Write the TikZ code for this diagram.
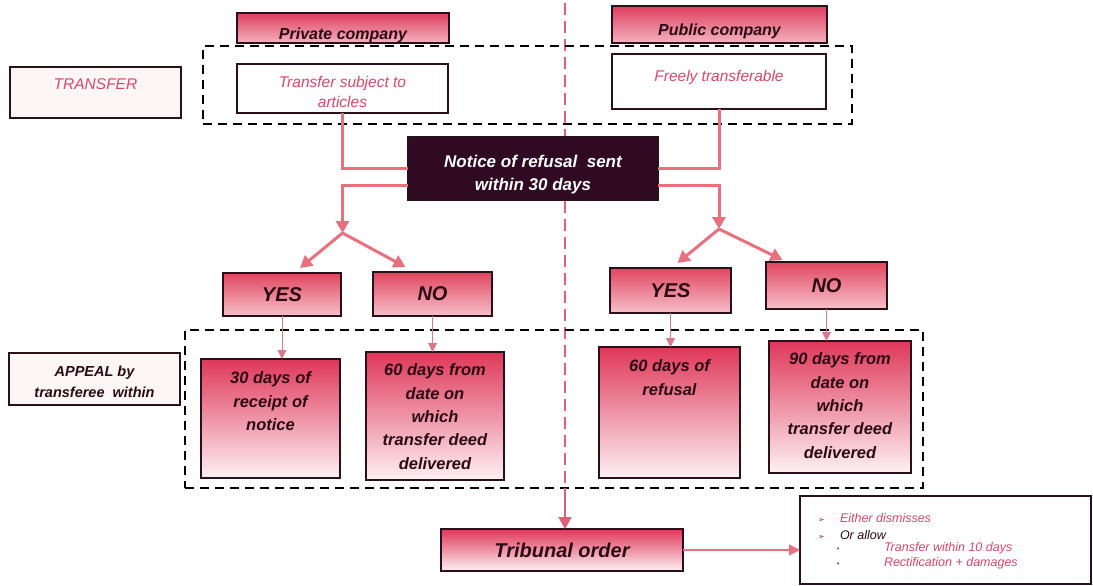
\documentclass[tikz,border=0pt]{standalone}
\usepackage{fontspec}
\setmainfont{Liberation Sans}
\newfontfamily\symfont{DejaVu Sans}
\usetikzlibrary{arrows.meta}

\definecolor{edge}{HTML}{2A1018}
\definecolor{ink}{HTML}{2B0A14}
\definecolor{hdrtop}{HTML}{DE3E5E}
\definecolor{hdrbot}{HTML}{F4B3C0}
\definecolor{choicetop}{HTML}{E0465F}
\definecolor{choicebot}{HTML}{F7C0CA}
\definecolor{periodtop}{HTML}{DF3759}
\definecolor{periodbot}{HTML}{FDF1F3}
\definecolor{link}{HTML}{E8707F}
\definecolor{finelink}{HTML}{D97A8A}
\definecolor{pinktext}{HTML}{D9476A}
\definecolor{noticefill}{HTML}{2F0A22}
\definecolor{divider}{HTML}{E35D78}
\definecolor{paleface}{HTML}{FDF6F7}
\definecolor{bullred}{HTML}{9A2436}

% text block of a fixed size, set from the top
\newcommand\toptext[4]{\parbox[c][#1][t]{#2}{\centering\vspace*{#3}#4\par}}
\newcommand\mainbul{\makebox[22pt][l]{{\symfont\fontsize{8}{8}\selectfont\color{bullred}➢}}}
\newcommand\subbul{\makebox[48pt][l]{{\symfont\fontsize{7}{7}\selectfont\color{ink!70}•}}}

\begin{document}
\begin{tikzpicture}[x=1pt,y=-1pt,
  boxline/.style={draw=edge, line width=1.1pt, inner sep=0pt, outer sep=0pt},
  hdr/.style={boxline, top color=hdrtop, bottom color=hdrbot, text=ink,
    font=\bfseries\itshape\fontsize{16}{18}\selectfont},
  sidelabel/.style={boxline, fill=paleface},
  rulebox/.style={boxline, fill=white, text=pinktext,
    font=\itshape\fontsize{15.5}{20}\selectfont},
  notice/.style={boxline, fill=noticefill, text=white,
    font=\bfseries\itshape\fontsize{17}{23}\selectfont},
  choice/.style={boxline, top color=choicetop, bottom color=choicebot, text=ink,
    font=\bfseries\itshape\fontsize{20}{22}\selectfont},
  period/.style={boxline, top color=periodtop, bottom color=periodbot, text=ink,
    font=\bfseries\itshape\fontsize{16.5}{23.3}\selectfont},
  group/.style={draw=black, line width=2pt, dash pattern=on 9pt off 6pt, inner sep=0pt},
  conn/.style={draw=link, line width=3pt},
  fineconn/.style={draw=finelink, line width=1pt},
  bigtip/.style={-{Triangle[length=12pt,width=13pt]}},
  smalltip/.style={-{Triangle[length=9pt,width=9pt]}},
]
\useasboundingbox (0,0) rectangle (1093,586);

% dividing line between the two kinds of company
\coordinate (dtop) at (565,3);
\coordinate (dbot) at (565,488);
\draw[draw=divider, line width=2pt, dash pattern=on 12pt off 6pt] (dtop) -- (dbot);

% headers and transfer rules
\node[hdr] (privhead) at (343,28) {\toptext{30pt}{212pt}{14.5pt}{Private company}};
\node[hdr] (pubhead) at (719.5,24.5) {\toptext{37pt}{215pt}{18pt}{Public company}};
\node[group, minimum width=649pt, minimum height=78pt] (topgroup) at (527.5,85) {};
\node[sidelabel, text=pinktext, font=\itshape\fontsize{15.5}{18}\selectfont]
  (transferlbl) at (95.5,92.5) {\toptext{51pt}{171pt}{11.5pt}{TRANSFER}};
\node[rulebox] (subj) at (342.5,88.5) {\toptext{49pt}{211pt}{12pt}{Transfer subject to\\articles}};
\node[rulebox] (free) at (719,81.5) {\toptext{55pt}{214pt}{16pt}{Freely transferable}};

% refusal notice
\node[notice] (notice) at (533,168.5) {\toptext{63pt}{250pt}{18pt}{Notice of refusal\ \ sent\\within 30 days}};

% yes / no branches
\node[choice, minimum width=118pt, minimum height=43pt] (yesL) at (282,294.5) {YES};
\node[choice, minimum width=119pt, minimum height=44pt] (noL) at (432.5,294) {NO};
\node[choice, minimum width=121pt, minimum height=45pt] (yesR) at (670.5,290.5) {YES};
\node[choice, minimum width=121pt, minimum height=47pt] (noR) at (826.5,285.5) {NO};

% appeal periods
\node[group, minimum width=738pt, minimum height=158pt] (appealgroup) at (554,409) {};
\node[sidelabel, text=ink, font=\bfseries\itshape\fontsize{14.5}{21}\selectfont]
  (appeallbl) at (94.5,379) {\toptext{52pt}{171pt}{13pt}{APPEAL by\\transferee\ \ within}};
\node[period] (c1) at (270.5,418.5) {\toptext{119pt}{139pt}{13pt}{30 days of\\receipt of\\notice}};
\node[period] (c2) at (435,416) {\toptext{128pt}{138pt}{12pt}{60 days from\\date on\\which\\transfer deed\\delivered}};
\node[period] (c3) at (669.5,412.5) {\toptext{131pt}{141pt}{13pt}{60 days of\\refusal}};
\node[period] (c4) at (840,407) {\toptext{132pt}{142pt}{12pt}{90 days from\\date on\\which\\transfer deed\\delivered}};

% tribunal and its possible orders
\node[period, font=\bfseries\itshape\fontsize{20}{22}\selectfont, minimum width=242pt, minimum height=42pt]
  (tribunal) at (562,550) {Tribunal order};
\node[boxline, fill=white, font=\itshape\fontsize{12.5}{14}\selectfont] (outcome) at (945.5,540)
  {\parbox[c][88pt][t]{291pt}{\raggedright\vspace*{17pt}%
    \hspace*{18pt}\mainbul{\color{pinktext}Either dismisses}\\[3pt]
    \hspace*{18pt}\mainbul{\color{ink}Or allow}\\[-2pt]
    \hspace*{36pt}\subbul{\color{pinktext}Transfer within 10 days}\\[1pt]
    \hspace*{36pt}\subbul{\color{pinktext}Rectification + damages}\par}};

% connectors
\coordinate (forkL) at (subj.south |- 0,233);
\coordinate (forkR) at (free.south |- 0,229);
\draw[conn] (subj.south) |- (notice.west);
\draw[conn, bigtip] ([yshift=-17pt]notice.west) -| (forkL);
\draw[conn, bigtip] (forkL) -- ([xshift=18pt,yshift=5pt]yesL.north);
\draw[conn, bigtip] (forkL) -- ([xshift=-27pt,yshift=5pt]noL.north);
\draw[conn] (free.south) |- (notice.east);
\draw[conn, bigtip] ([yshift=-17pt]notice.east) -| (forkR);
\draw[conn, bigtip] (forkR) -- ([xshift=7pt,yshift=5pt]yesR.north);
\draw[conn, bigtip] (forkR) -- ([xshift=-44pt,yshift=2pt]noR.north);

\draw[fineconn, smalltip] (yesL.south) -- (yesL.south |- c1.north);
\draw[fineconn, smalltip] (noL.south) -- (noL.south |- c2.north);
\draw[fineconn, smalltip] (yesR.south) -- (yesR.south |- c3.north);
\draw[fineconn, smalltip] (noR.south) -- (noR.south |- c4.north);

\draw[draw=divider, line width=2pt, bigtip] (dbot) -- (dbot |- tribunal.north);
\draw[draw=link, line width=1.2pt, -{Triangle[length=11pt,width=11pt]}]
  (tribunal.east) -- (tribunal.east -| outcome.west);
\end{tikzpicture}
\end{document}
